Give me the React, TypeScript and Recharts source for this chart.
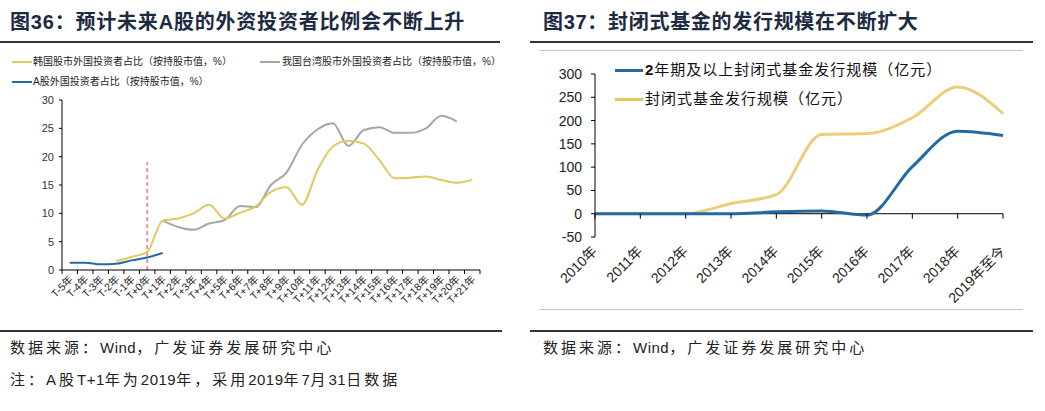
import { LineChart, Line, XAxis, YAxis, ReferenceLine } from "recharts";

// 图36 data
const periods = [
  "T-5年", "T-4年", "T-3年", "T-2年", "T-1年", "T+0年", "T+1年", "T+2年", "T+3年",
  "T+4年", "T+5年", "T+6年", "T+7年", "T+8年", "T+9年", "T+10年", "T+11年", "T+12年",
  "T+13年", "T+14年", "T+15年", "T+16年", "T+17年", "T+18年", "T+19年", "T+20年", "T+21年",
];
const koreaShare = [
  null, null, null, 1.6, 2.3, 3.2, 8.7, 9.1, 10.0, 11.5, 9.1, 10.1, 11.2, 13.8,
  14.6, 11.5, 17.6, 21.8, 22.8, 22.3, 19.4, 16.2, 16.3, 16.5, 15.9, 15.4, 15.9,
];
const taiwanShare = [
  null, null, null, null, null, null, 8.7, 7.6, 7.1, 8.2, 8.8, 11.3, 11.1, 15.0,
  17.2, 22.1, 24.8, 25.9, 21.9, 24.7, 25.2, 24.2, 24.2, 25.0, 27.2, 26.2, null,
];
const aShare = [
  1.3, 1.3, 1.0, 1.1, 1.7, 2.2, 3.0, null, null, null, null, null, null, null,
  null, null, null, null, null, null, null, null, null, null, null, null, null,
];
const leftTicks = [0, 5, 10, 15, 20, 25, 30];

// 图37 data
const years = [
  "2010年", "2011年", "2012年", "2013年", "2014年", "2015年", "2016年", "2017年", "2018年", "2019年至今",
];
const longTermIssue = [0, 0, 0, 0, 4, 6, -3, 101, 177, 168];
const totalIssue = [0, 0, 0, 22, 41, 170, 172, 206, 272, 215];
const rightTicks = [-50, 0, 50, 100, 150, 200, 250, 300];

const leftData = periods.map((p, i) => ({
  period: p,
  korea: koreaShare[i],
  taiwan: taiwanShare[i],
  ashare: aShare[i],
}));
const rightData = years.map((y, i) => ({ year: y, longTerm: longTermIssue[i], total: totalIssue[i] }));

const YELLOW = "#E3C85E";
const GRAY = "#A6A6A6";
const BLUE = "#226AA4";
const FONT = "'Liberation Sans', 'Noto Sans CJK SC', sans-serif";

// left plot geometry
const L_W = 500, L_H = 330;
const L_MARGIN = { top: 100, right: 20, bottom: 20, left: 32 };
const L_YW = 30;
const L_BAND = (L_W - L_MARGIN.left - L_YW - L_MARGIN.right) / periods.length;

// right plot geometry
const R_W = 515, R_H = 330;
const R_MARGIN = { top: 74, right: 42, bottom: 33, left: 15 };
const R_XH = 60;
const R_PLOT_H = R_H - R_MARGIN.top - R_MARGIN.bottom - R_XH;
const R_ZERO_Y = R_MARGIN.top + (R_PLOT_H * 300) / 350;

function PeriodTick(props: any) {
  const { x, y, payload, index } = props;
  const last = index === periods.length - 1;
  return (
    <g>
      <line x1={x - L_BAND / 2} y1={y} x2={x - L_BAND / 2} y2={y + 4} stroke="#000" />
      {last && <line x1={x + L_BAND / 2} y1={y} x2={x + L_BAND / 2} y2={y + 4} stroke="#000" />}
      <text
        x={x + 4}
        y={y + 10}
        textAnchor="end"
        transform={`rotate(-45 ${x + 4} ${y + 10})`}
        fontSize={10.5}
        fill="#222"
        fontFamily={FONT}
      >
        {payload.value}
      </text>
    </g>
  );
}

function YearTick(props: any) {
  const { x, y, payload } = props;
  return (
    <g>
      <line x1={x} y1={R_ZERO_Y} x2={x} y2={R_ZERO_Y + 5} stroke="#000" />
      <text
        x={x + 3}
        y={y + 15}
        textAnchor="end"
        transform={`rotate(-45 ${x + 3} ${y + 15})`}
        fontSize={14}
        fill="#222"
        fontFamily={FONT}
      >
        {payload.value}
      </text>
    </g>
  );
}

const abs = (left: number, top: number, extra: any = {}) => ({ position: "absolute" as const, left, top, ...extra });
const noteStyle = { fontSize: 15, lineHeight: "20px", color: "#222", letterSpacing: 3, whiteSpace: "nowrap" };
const tight = { letterSpacing: 0.5 };

export default function App() {
  return (
    <div style={{ position: "absolute", left: 0, top: 0, width: 1045, height: 411, background: "#fff", fontFamily: FONT, overflow: "hidden" }}>
      {/* titles */}
      <div style={abs(10, 8, { fontSize: 20, fontWeight: 700, color: "#1C2A42", letterSpacing: 0.8, whiteSpace: "nowrap", lineHeight: "28px" })}>
        图36：预计未来A股的外资投资者比例会不断上升
      </div>
      <div style={abs(543, 8, { fontSize: 20, fontWeight: 700, color: "#1C2A42", letterSpacing: 0.7, whiteSpace: "nowrap", lineHeight: "28px" })}>
        图37：封闭式基金的发行规模在不断扩大
      </div>
      <div style={abs(0, 41, { width: 500, height: 2, background: "#333" })} />
      <div style={abs(530, 41, { width: 503, height: 2, background: "#333" })} />
      <div style={abs(540, 50, { width: 483, height: 1, background: "#C4C4C4" })} />
      <div style={abs(540, 309, { width: 483, height: 1, background: "#C4C4C4" })} />
      <div style={abs(0, 330, { width: 502, height: 2, background: "#333" })} />
      <div style={abs(530, 330, { width: 503, height: 2, background: "#333" })} />

      {/* left legend */}
      <div style={abs(12, 61, { width: 20, height: 2, background: YELLOW })} />
      <div style={abs(33, 55, { fontSize: 10, lineHeight: "14px", color: "#222", whiteSpace: "nowrap" })}>
        韩国股市外国投资者占比（按持股市值，%）
      </div>
      <div style={abs(260, 61, { width: 20, height: 2, background: GRAY })} />
      <div style={abs(282, 55, { fontSize: 10, lineHeight: "14px", color: "#222", whiteSpace: "nowrap" })}>
        我国台湾股市外国投资者占比（按持股市值，%）
      </div>
      <div style={abs(12, 81, { width: 20, height: 2, background: BLUE })} />
      <div style={abs(33, 75, { fontSize: 10, lineHeight: "14px", color: "#222", whiteSpace: "nowrap" })}>
        A股外国投资者占比（按持股市值，%）
      </div>

      <div style={abs(0, 0)}>
        <LineChart width={L_W} height={L_H} data={leftData} margin={L_MARGIN}>
          <XAxis
            dataKey="period"
            scale="band"
            interval={0}
            height={40}
            tickSize={0}
            tickMargin={0}
            tickLine={false}
            axisLine={{ stroke: "#000" }}
            tick={<PeriodTick />}
          />
          <YAxis
            width={L_YW}
            domain={[0, 30]}
            ticks={leftTicks}
            tickSize={3}
            tickMargin={5}
            axisLine={{ stroke: "#000" }}
            tickLine={{ stroke: "#000" }}
            tick={{ fontSize: 11, fill: "#333", fontFamily: FONT }}
          />
          <ReferenceLine
            segment={[{ x: "T+0年", y: 0 }, { x: "T+0年", y: 19 }]}
            stroke="#F0595A"
            strokeWidth={1.2}
            strokeDasharray="4 3"
          />
          <Line type="monotone" dataKey="taiwan" stroke={GRAY} strokeWidth={2} dot={false} isAnimationActive={false} />
          <Line type="monotone" dataKey="korea" stroke={YELLOW} strokeWidth={2} dot={false} isAnimationActive={false} />
          <Line type="monotone" dataKey="ashare" stroke={BLUE} strokeWidth={2} dot={false} isAnimationActive={false} />
        </LineChart>
      </div>

      {/* right legend */}
      <div style={abs(615, 69, { width: 28, height: 3, background: BLUE })} />
      <div style={abs(645, 60, { fontSize: 15, lineHeight: "20px", color: "#111", letterSpacing: 1, whiteSpace: "nowrap" })}>
        <b>2</b>年期及以上封闭式基金发行规模（亿元）
      </div>
      <div style={abs(615, 98, { width: 28, height: 3, background: YELLOW })} />
      <div style={abs(645, 89, { fontSize: 15, lineHeight: "20px", color: "#111", letterSpacing: 1, whiteSpace: "nowrap" })}>
        封闭式基金发行规模（亿元）
      </div>

      <div style={abs(530, 0)}>
        <LineChart width={R_W} height={R_H} data={rightData} margin={R_MARGIN}>
          <XAxis
            dataKey="year"
            interval={0}
            height={R_XH}
            tickSize={0}
            tickMargin={0}
            tickLine={false}
            axisLine={false}
            tick={<YearTick />}
          />
          <YAxis
            width={50}
            domain={[-50, 300]}
            ticks={rightTicks}
            tickSize={4}
            tickMargin={9}
            axisLine={{ stroke: "#000" }}
            tickLine={{ stroke: "#000" }}
            tick={{ fontSize: 14, fill: "#222", fontFamily: FONT }}
          />
          <ReferenceLine y={0} stroke="#000" />
          <Line type="monotone" dataKey="total" stroke="#EACF78" strokeWidth={3} dot={false} isAnimationActive={false} />
          <Line type="monotone" dataKey="longTerm" stroke={BLUE} strokeWidth={3} dot={false} isAnimationActive={false} />
        </LineChart>
      </div>

      {/* sources */}
      <div style={abs(10, 338, noteStyle)}>
        数据来源：<span style={tight}>Wind</span>，广发证券发展研究中心
      </div>
      <div style={abs(543, 338, noteStyle)}>
        数据来源：<span style={tight}>Wind</span>，广发证券发展研究中心
      </div>
      <div style={abs(10, 370, noteStyle)}>
        注：A股<span style={tight}>T+1</span>年为<span style={tight}>2019</span>年，采用<span style={tight}>2019</span>年<span style={tight}>7</span>月<span style={tight}>31</span>日数据
      </div>
    </div>
  );
}
